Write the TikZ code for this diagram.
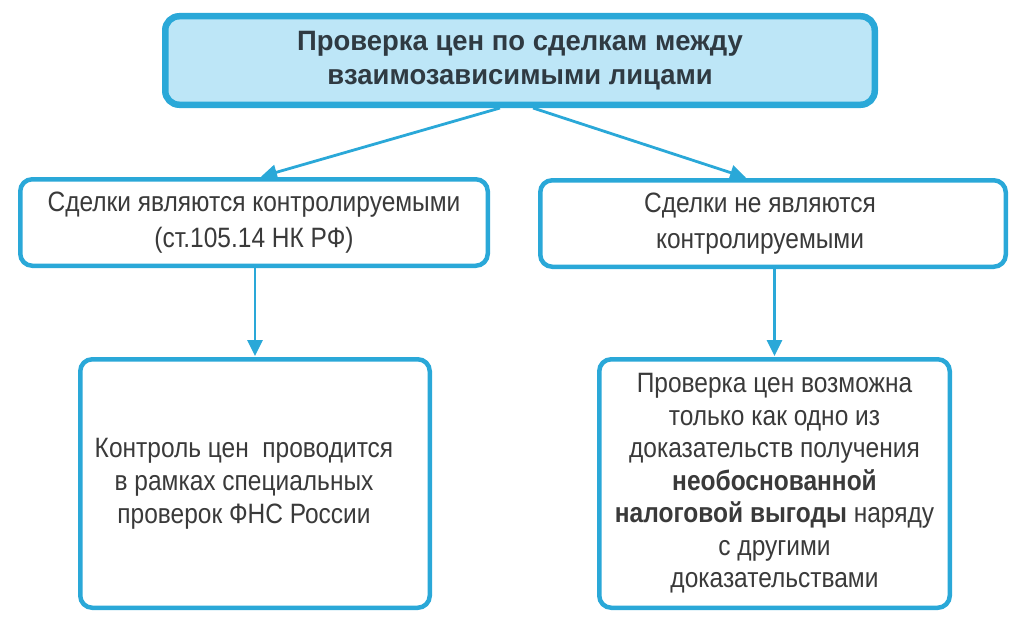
\documentclass[tikz,border=0pt]{standalone}
\usepackage{fontspec}
\setmainfont{Liberation Sans}[FakeStretch=0.875]
\newfontfamily\topfont{Liberation Sans}[FakeStretch=0.98]
\usetikzlibrary{arrows.meta}
\definecolor{bord}{HTML}{2AA8D8}
\definecolor{topfill}{HTML}{BDE6F7}
\definecolor{txt}{HTML}{3A3A3A}
\definecolor{toptxt}{HTML}{2F3A42}
\begin{document}
\begin{tikzpicture}[x=1pt,y=-1pt,
  box/.style={draw=bord,line width=4.5pt,rounded corners=12pt,fill=white,
    text=txt,align=center,inner sep=0pt,font=\fontsize{28}{36}\selectfont},
  botbox/.style={box,font=\fontsize{28}{32.5}\selectfont},
  topbox/.style={box,line width=6.5pt,rounded corners=14pt,fill=topfill,text=toptxt,
    font=\topfont\bfseries\fontsize{28}{34}\selectfont},
  arr/.style={draw=bord,line width=2.8pt,-{Triangle[length=16pt,width=15pt]}}]
\useasboundingbox (0,0) rectangle (1024,626);
\node[topbox,minimum width=709.5pt,minimum height=88.5pt] (top) at (520,60.5)
  {Проверка цен по сделкам между\\взаимозависимыми лицами};
\node[box,minimum width=467.5pt,minimum height=86.5pt] (midL) at (254,222.5)
  {Сделки являются контролируемыми\\(ст.105.14 НК РФ)};
\node[box,minimum width=465.5pt,minimum height=86.5pt] (midR) at (773,223.5)
  {\hspace*{-26pt}Сделки не являются\\\hspace*{-26pt}контролируемыми};
\node[botbox,font=\fontsize{28}{33}\selectfont,minimum width=349.5pt,minimum height=248.5pt] (botL) at (255,483.5)
  {\hspace*{-22pt}Контроль цен\ \ проводится\\\hspace*{-22pt}в рамках специальных\\\hspace*{-22pt}проверок ФНС России};
\node[botbox,minimum width=350.5pt,minimum height=248.5pt] (botR) at (774.5,483.5)
  {Проверка цен возможна\\только как одно из\\доказательств получения\\\textbf{необоснованной}\\\textbf{налоговой выгоды} наряду\\с другими\\доказательствами};
\coordinate (sL) at ([xshift=-20pt]top.south);
\coordinate (sR) at ([xshift=13pt]top.south);
\draw[arr,shorten >=1pt] (sL) -- (midL.north -| 260,0);
\draw[arr,shorten >=1pt] (sR) -- (midR.north -| 747,0);
\draw[arr,shorten >=1pt] (midL.south -| botL.north) -- (botL.north);
\draw[arr,shorten >=1pt] (midR.south -| botR.north) -- (botR.north);
\end{tikzpicture}
\end{document}
